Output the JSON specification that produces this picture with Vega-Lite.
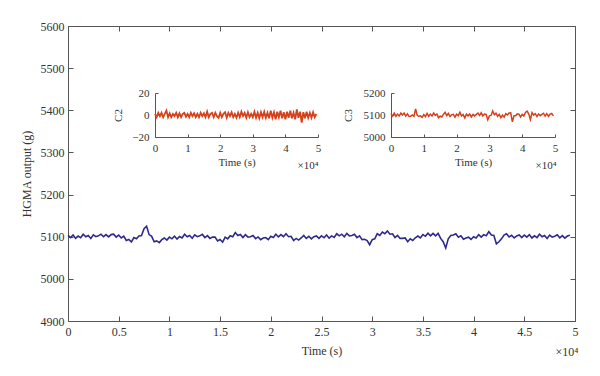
{
  "$schema": "https://vega.github.io/schema/vega-lite/v6.json",
  "width": 507,
  "height": 295,
  "autosize": {"type": "none"},
  "padding": {"left": 68, "top": 26, "right": 25, "bottom": 55},
  "background": "white",
  "config": {
    "view": {"stroke": "#555555", "strokeWidth": 1},
    "font": "Liberation Serif",
    "text": {"font": "Liberation Serif", "color": "#333333"},
    "axis": {
      "domainColor": "#555555", "tickColor": "#555555", "labelColor": "#333333", "titleColor": "#333333",
      "labelFont": "Liberation Serif", "titleFont": "Liberation Serif", "titleFontWeight": "normal",
      "grid": false, "labelFontSize": 12, "titleFontSize": 12, "labelFlush": false, "labelOverlap": false
    }
  },
  "datasets": {
    "main": [
      {"t":0,"v":5103},{"t":250,"v":5098},{"t":500,"v":5104},{"t":750,"v":5096},{"t":1000,"v":5101.5},{"t":1250,"v":5097.5},{"t":1500,"v":5106},{"t":1750,"v":5100},{"t":2000,"v":5103},{"t":2250,"v":5096},
      {"t":2500,"v":5104.5},{"t":2750,"v":5100},{"t":3000,"v":5102},{"t":3250,"v":5106},{"t":3500,"v":5100},{"t":3750,"v":5105},{"t":4000,"v":5099.5},{"t":4250,"v":5105},{"t":4500,"v":5106},{"t":4750,"v":5099},
      {"t":5000,"v":5104},{"t":5250,"v":5097},{"t":5500,"v":5101.5},{"t":5750,"v":5091},{"t":6000,"v":5093.5},{"t":6250,"v":5087.5},{"t":6500,"v":5098},{"t":6750,"v":5095},{"t":7000,"v":5102},{"t":7250,"v":5103},
      {"t":7500,"v":5119},{"t":7750,"v":5125},{"t":8000,"v":5105},{"t":8250,"v":5101},{"t":8500,"v":5088},{"t":8750,"v":5090},{"t":9000,"v":5086},{"t":9250,"v":5093},{"t":9500,"v":5097},{"t":9750,"v":5092},
      {"t":10000,"v":5099},{"t":10250,"v":5095},{"t":10500,"v":5101.5},{"t":10750,"v":5094.5},{"t":11000,"v":5100.5},{"t":11250,"v":5097},{"t":11500,"v":5106},{"t":11750,"v":5100},{"t":12000,"v":5103},{"t":12250,"v":5096.5},
      {"t":12500,"v":5104.5},{"t":12750,"v":5100},{"t":13000,"v":5102},{"t":13250,"v":5105.5},{"t":13500,"v":5098},{"t":13750,"v":5102.5},{"t":14000,"v":5096},{"t":14250,"v":5099},{"t":14500,"v":5099},{"t":14750,"v":5090},
      {"t":15000,"v":5093.5},{"t":15250,"v":5087},{"t":15500,"v":5099},{"t":15750,"v":5095},{"t":16000,"v":5102.5},{"t":16250,"v":5100},{"t":16500,"v":5110},{"t":16750,"v":5103},{"t":17000,"v":5105.5},{"t":17250,"v":5098},
      {"t":17500,"v":5105},{"t":17750,"v":5099},{"t":18000,"v":5100},{"t":18250,"v":5103},{"t":18500,"v":5095.5},{"t":18750,"v":5099.5},{"t":19000,"v":5093},{"t":19250,"v":5097},{"t":19500,"v":5098},{"t":19750,"v":5093},
      {"t":20000,"v":5101},{"t":20250,"v":5098},{"t":20500,"v":5106},{"t":20750,"v":5099.5},{"t":21000,"v":5105},{"t":21250,"v":5100},{"t":21500,"v":5107},{"t":21750,"v":5100},{"t":22000,"v":5101},{"t":22250,"v":5091},
      {"t":22500,"v":5096},{"t":22750,"v":5092},{"t":23000,"v":5097},{"t":23250,"v":5103},{"t":23500,"v":5096},{"t":23750,"v":5101},{"t":24000,"v":5095},{"t":24250,"v":5100},{"t":24500,"v":5102},{"t":24750,"v":5096},
      {"t":25000,"v":5102},{"t":25250,"v":5097.5},{"t":25500,"v":5104},{"t":25750,"v":5096.5},{"t":26000,"v":5102},{"t":26250,"v":5098.5},{"t":26500,"v":5107},{"t":26750,"v":5102},{"t":27000,"v":5106},{"t":27250,"v":5100},
      {"t":27500,"v":5108},{"t":27750,"v":5102},{"t":28000,"v":5103},{"t":28250,"v":5106},{"t":28500,"v":5098},{"t":28750,"v":5102},{"t":29000,"v":5093},{"t":29250,"v":5094},{"t":29500,"v":5091},{"t":29750,"v":5081},
      {"t":30000,"v":5093},{"t":30250,"v":5095},{"t":30500,"v":5107},{"t":30750,"v":5103},{"t":31000,"v":5111},{"t":31250,"v":5107},{"t":31500,"v":5113.5},{"t":31750,"v":5106},{"t":32000,"v":5107},{"t":32250,"v":5098},
      {"t":32500,"v":5103},{"t":32750,"v":5096},{"t":33000,"v":5096},{"t":33250,"v":5097},{"t":33500,"v":5088},{"t":33750,"v":5095},{"t":34000,"v":5091},{"t":34250,"v":5097.5},{"t":34500,"v":5101.5},{"t":34750,"v":5097},
      {"t":35000,"v":5105},{"t":35250,"v":5101},{"t":35500,"v":5108.5},{"t":35750,"v":5102},{"t":36000,"v":5108},{"t":36250,"v":5102},{"t":36500,"v":5108},{"t":36750,"v":5096},{"t":37000,"v":5088},{"t":37250,"v":5073},
      {"t":37500,"v":5095},{"t":37750,"v":5103},{"t":38000,"v":5104},{"t":38250,"v":5107},{"t":38500,"v":5099},{"t":38750,"v":5102},{"t":39000,"v":5094},{"t":39250,"v":5097},{"t":39500,"v":5099},{"t":39750,"v":5093.5},
      {"t":40000,"v":5100},{"t":40250,"v":5097},{"t":40500,"v":5105},{"t":40750,"v":5099},{"t":41000,"v":5105},{"t":41250,"v":5102.5},{"t":41500,"v":5112},{"t":41750,"v":5104},{"t":42000,"v":5103},{"t":42250,"v":5083},
      {"t":42500,"v":5088},{"t":42750,"v":5095},{"t":43000,"v":5104},{"t":43250,"v":5107},{"t":43500,"v":5099.5},{"t":43750,"v":5103.5},{"t":44000,"v":5097},{"t":44250,"v":5102},{"t":44500,"v":5104},{"t":44750,"v":5098},
      {"t":45000,"v":5104},{"t":45250,"v":5099},{"t":45500,"v":5105},{"t":45750,"v":5097},{"t":46000,"v":5102},{"t":46250,"v":5098},{"t":46500,"v":5106},{"t":46750,"v":5100},{"t":47000,"v":5103},{"t":47250,"v":5096},
      {"t":47500,"v":5104},{"t":47750,"v":5099},{"t":48000,"v":5101},{"t":48250,"v":5104.5},{"t":48500,"v":5097.5},{"t":48750,"v":5102.5},{"t":49000,"v":5096.5},{"t":49250,"v":5101.5},{"t":49500,"v":5103.5}
    ],
    "c2": [
      {"t":0,"v":1},{"t":500,"v":-2},{"t":1000,"v":2},{"t":1500,"v":-1},{"t":2000,"v":2},{"t":2500,"v":-2},{"t":3000,"v":1},{"t":3500,"v":4},{"t":4000,"v":-2},{"t":4500,"v":1.5},
      {"t":5000,"v":-2},{"t":5500,"v":1},{"t":6000,"v":-1},{"t":6500,"v":2},{"t":7000,"v":-2},{"t":7500,"v":1.5},{"t":8000,"v":-2},{"t":8500,"v":1},{"t":9000,"v":2},{"t":9500,"v":-1.5},
      {"t":10000,"v":1},{"t":10500,"v":-2},{"t":11000,"v":2},{"t":11500,"v":-1},{"t":12000,"v":1.5},{"t":12500,"v":-2},{"t":13000,"v":1},{"t":13500,"v":-2},{"t":14000,"v":2},{"t":14500,"v":-1},
      {"t":15000,"v":1.5},{"t":15500,"v":-2},{"t":16000,"v":3},{"t":16500,"v":-2},{"t":17000,"v":1},{"t":17500,"v":2},{"t":18000,"v":-2},{"t":18500,"v":2},{"t":19000,"v":-1},{"t":19500,"v":-2.5},
      {"t":20000,"v":2},{"t":20500,"v":-2},{"t":21000,"v":1},{"t":21500,"v":2.5},{"t":22000,"v":-2.5},{"t":22500,"v":2},{"t":23000,"v":-1},{"t":23500,"v":2.5},{"t":24000,"v":-2},{"t":24500,"v":1},
      {"t":25000,"v":-2.5},{"t":25500,"v":2},{"t":26000,"v":-2},{"t":26500,"v":3},{"t":27000,"v":-1},{"t":27500,"v":2},{"t":28000,"v":-2.5},{"t":28500,"v":2.5},{"t":29000,"v":-2},{"t":29500,"v":1},
      {"t":30000,"v":-2},{"t":30500,"v":3},{"t":31000,"v":-2.5},{"t":31500,"v":2},{"t":32000,"v":-3},{"t":32500,"v":2.5},{"t":33000,"v":-2},{"t":33500,"v":3},{"t":34000,"v":-2.5},{"t":34500,"v":2},
      {"t":35000,"v":-3},{"t":35500,"v":4},{"t":36000,"v":-2.5},{"t":36500,"v":2.5},{"t":37000,"v":-4},{"t":37500,"v":3},{"t":38000,"v":-2},{"t":38500,"v":4},{"t":39000,"v":-3},{"t":39500,"v":2.5},
      {"t":40000,"v":-4},{"t":40500,"v":3},{"t":41000,"v":-2.5},{"t":41500,"v":4},{"t":42000,"v":-3},{"t":42500,"v":2},{"t":43000,"v":-4},{"t":43500,"v":5},{"t":44000,"v":-2.5},{"t":44500,"v":3},
      {"t":45000,"v":-7},{"t":45500,"v":2.5},{"t":46000,"v":-3},{"t":46500,"v":3},{"t":47000,"v":-2.5},{"t":47500,"v":2},{"t":48000,"v":-2.5},{"t":48500,"v":2.5},{"t":49000,"v":-2},{"t":49500,"v":1}
    ],
    "c3": [
      {"t":0,"v":5106},{"t":500,"v":5095},{"t":1000,"v":5108.5},{"t":1500,"v":5094},{"t":2000,"v":5104},{"t":2500,"v":5095.5},{"t":3000,"v":5109},{"t":3500,"v":5100},{"t":4000,"v":5108.5},{"t":4500,"v":5095},
      {"t":5000,"v":5105},{"t":5500,"v":5093.5},{"t":6000,"v":5094.5},{"t":6500,"v":5100},{"t":7000,"v":5094},{"t":7500,"v":5128},{"t":8000,"v":5098},{"t":8500,"v":5094},{"t":9000,"v":5096},{"t":9500,"v":5089},
      {"t":10000,"v":5102},{"t":10500,"v":5092.5},{"t":11000,"v":5107.5},{"t":11500,"v":5094},{"t":12000,"v":5104},{"t":12500,"v":5095.5},{"t":13000,"v":5109},{"t":13500,"v":5098},{"t":14000,"v":5105},{"t":14500,"v":5088},
      {"t":15000,"v":5094.5},{"t":15500,"v":5091},{"t":16000,"v":5103.5},{"t":16500,"v":5112},{"t":17000,"v":5097.5},{"t":17500,"v":5107},{"t":18000,"v":5093},{"t":18500,"v":5101.5},{"t":19000,"v":5103},{"t":19500,"v":5090},
      {"t":20000,"v":5104},{"t":20500,"v":5097},{"t":21000,"v":5112},{"t":21500,"v":5095},{"t":22000,"v":5102},{"t":22500,"v":5087},{"t":23000,"v":5104},{"t":23500,"v":5096},{"t":24000,"v":5104},{"t":24500,"v":5091},
      {"t":25000,"v":5103},{"t":25500,"v":5096},{"t":26000,"v":5103},{"t":26500,"v":5109},{"t":27000,"v":5098},{"t":27500,"v":5110},{"t":28000,"v":5096},{"t":28500,"v":5104},{"t":29000,"v":5103},{"t":29500,"v":5078},
      {"t":30000,"v":5096},{"t":30500,"v":5098},{"t":31000,"v":5118},{"t":31500,"v":5101.5},{"t":32000,"v":5108},{"t":32500,"v":5094},{"t":33000,"v":5103},{"t":33500,"v":5088},{"t":34000,"v":5100},{"t":34500,"v":5090.5},
      {"t":35000,"v":5106},{"t":35500,"v":5100.5},{"t":36000,"v":5109},{"t":36500,"v":5110},{"t":37000,"v":5069},{"t":37500,"v":5097},{"t":38000,"v":5097},{"t":38500,"v":5105},{"t":39000,"v":5104},{"t":39500,"v":5091},
      {"t":40000,"v":5103},{"t":40500,"v":5096},{"t":41000,"v":5112},{"t":41500,"v":5118},{"t":42000,"v":5104},{"t":42500,"v":5079},{"t":43000,"v":5111},{"t":43500,"v":5099.5},{"t":44000,"v":5106},{"t":44500,"v":5093},
      {"t":45000,"v":5105},{"t":45500,"v":5097},{"t":46000,"v":5103},{"t":46500,"v":5108},{"t":47000,"v":5095},{"t":47500,"v":5106},{"t":48000,"v":5094},{"t":48500,"v":5104},{"t":49000,"v":5107},{"t":49500,"v":5096}
    ]
  },
  "resolve": {"scale": {"x": "independent", "y": "independent"}, "axis": {"x": "independent", "y": "independent"}},
  "layer": [
    {
      "layer": [
        {
          "data": {"name": "main"},
          "mark": {"type": "line", "color": "#2e2a8c", "strokeWidth": 1.6},
          "encoding": {
            "x": {"field": "t", "type": "quantitative",
              "scale": {"domain": [0, 50000], "nice": false, "zero": false},
              "axis": {"orient": "bottom", "values": [0,5000,10000,15000,20000,25000,30000,35000,40000,45000,50000],
                "labelExpr": "datum.value / 10000", "tickSize": -5, "labelPadding": 10, "domain": false,
                "title": "Time (s)", "titleFont": "Liberation Serif", "titleFontWeight": "normal", "titleFontSize": 12,
                "titleY": 29, "titleBaseline": "middle"}},
            "y": {"field": "v", "type": "quantitative",
              "scale": {"domain": [4900, 5600], "nice": false, "zero": false},
              "axis": {"orient": "left", "values": [4900,5000,5100,5200,5300,5400,5500,5600], "format": "d",
                "tickSize": -5, "labelPadding": 9, "domain": false,
                "title": "HGMA output (g)", "titleFont": "Liberation Serif", "titleFontWeight": "normal", "titleFontSize": 12,
                "titleX": -42, "titleY": 147.5, "titleBaseline": "middle"}}
          }
        },
        {
          "data": {"values": [{"t": 50000, "v": 4900, "lab": "×10⁴"}]},
          "mark": {"type": "text", "align": "center", "baseline": "middle", "dx": -8, "dy": 31, "fontSize": 12},
          "encoding": {
            "x": {"field": "t", "type": "quantitative"},
            "y": {"field": "v", "type": "quantitative"},
            "text": {"field": "lab"}
          }
        }
      ]
    },
    {
      "data": {"name": "main"},
      "mark": {"type": "line", "opacity": 0},
      "encoding": {
        "x": {"field": "t", "type": "quantitative",
          "scale": {"domain": [0, 50000], "nice": false, "zero": false},
          "axis": {"orient": "top", "values": [0,5000,10000,15000,20000,25000,30000,35000,40000,45000,50000],
            "labels": false, "tickSize": -5, "domain": false, "title": null}},
        "y": {"field": "v", "type": "quantitative",
          "scale": {"domain": [4900, 5600], "nice": false, "zero": false},
          "axis": {"orient": "right", "values": [4900,5000,5100,5200,5300,5400,5500,5600],
            "labels": false, "tickSize": -5, "domain": false, "title": null}}
      }
    },
    {
      "layer": [
        {
          "data": {"name": "c2"},
          "mark": {"type": "line", "color": "#d6411c", "strokeWidth": 1.8},
          "encoding": {
            "x": {"field": "t", "type": "quantitative",
              "scale": {"domain": [0, 50000], "nice": false, "zero": false, "range": [87, 250]},
              "axis": {"orient": "bottom", "offset": -184, "values": [0,10000,20000,30000,40000,50000],
                "labelExpr": "datum.value / 10000", "tickSize": -3, "labelPadding": 8, "labelFontSize": 11,
                "title": "Time (s)", "titleFont": "Liberation Serif", "titleFontWeight": "normal", "titleFontSize": 11,
                "titleY": 25, "titleBaseline": "middle"}},
            "y": {"field": "v", "type": "quantitative",
              "scale": {"domain": [-20, 20], "nice": false, "zero": false, "range": [111, 67]},
              "axis": {"orient": "left", "offset": -87, "values": [-20, 0, 20], "format": "d",
                "tickSize": -3, "labelPadding": 9, "labelFontSize": 11,
                "title": "C2", "titleFont": "Liberation Serif", "titleFontWeight": "normal", "titleFontSize": 11,
                "titleX": -37, "titleY": 89, "titleBaseline": "middle"}}
          }
        },
        {
          "data": {"values": [{"t": 50000, "v": -20, "lab": "×10⁴"}]},
          "mark": {"type": "text", "align": "center", "baseline": "middle", "dx": -10, "dy": 29, "fontSize": 11},
          "encoding": {
            "x": {"field": "t", "type": "quantitative"},
            "y": {"field": "v", "type": "quantitative"},
            "text": {"field": "lab"}
          }
        }
      ]
    },
    {
      "layer": [
        {
          "data": {"name": "c3"},
          "mark": {"type": "line", "color": "#d6411c", "strokeWidth": 1.5},
          "encoding": {
            "x": {"field": "t", "type": "quantitative",
              "scale": {"domain": [0, 50000], "nice": false, "zero": false, "range": [323, 487]},
              "axis": {"orient": "bottom", "offset": -184, "values": [0,10000,20000,30000,40000,50000],
                "labelExpr": "datum.value / 10000", "tickSize": -3, "labelPadding": 8, "labelFontSize": 11,
                "title": "Time (s)", "titleFont": "Liberation Serif", "titleFontWeight": "normal", "titleFontSize": 11,
                "titleY": 25, "titleBaseline": "middle"}},
            "y": {"field": "v", "type": "quantitative",
              "scale": {"domain": [5000, 5200], "nice": false, "zero": false, "range": [111, 67]},
              "axis": {"orient": "left", "offset": -323, "values": [5000, 5100, 5200], "format": "d",
                "tickSize": -3, "labelPadding": 9, "labelFontSize": 11,
                "title": "C3", "titleFont": "Liberation Serif", "titleFontWeight": "normal", "titleFontSize": 11,
                "titleX": -43, "titleY": 89, "titleBaseline": "middle"}}
          }
        },
        {
          "data": {"values": [{"t": 50000, "v": 5000, "lab": "×10⁴"}]},
          "mark": {"type": "text", "align": "center", "baseline": "middle", "dx": -9, "dy": 29, "fontSize": 11},
          "encoding": {
            "x": {"field": "t", "type": "quantitative"},
            "y": {"field": "v", "type": "quantitative"},
            "text": {"field": "lab"}
          }
        }
      ]
    }
  ]
}
